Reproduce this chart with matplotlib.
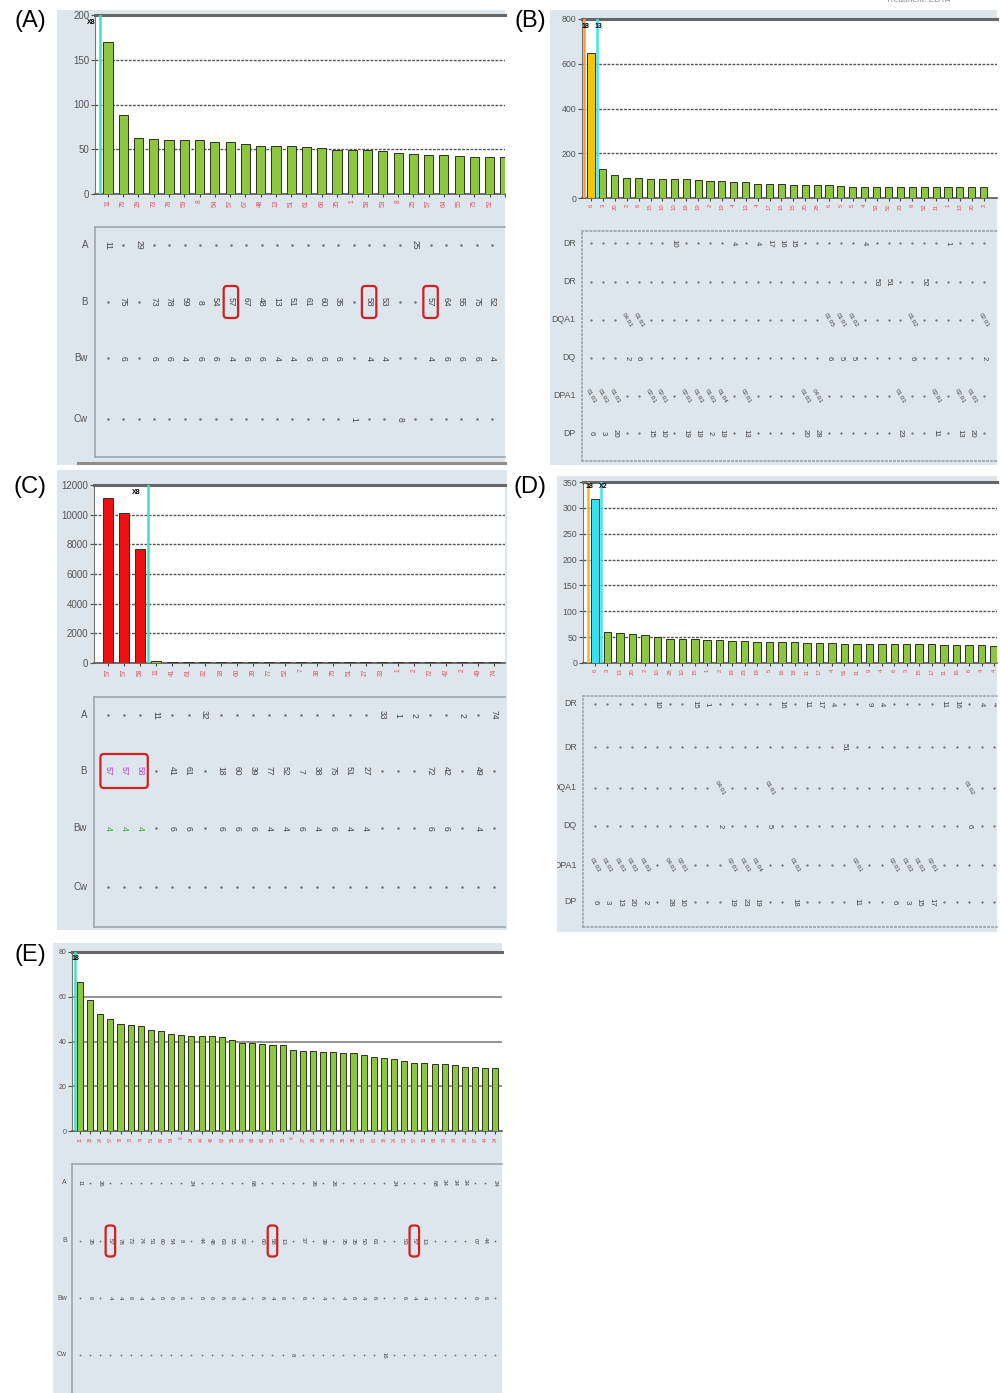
import numpy as np
import matplotlib
matplotlib.use("Agg")
import matplotlib.pyplot as plt
from matplotlib.patches import FancyBboxPatch

plt.rcParams['font.family'] = ['Liberation Sans', 'DejaVu Sans']

W, H = 1000, 1393
BG = '#dde5ed'
GREEN = '#8dc63f'
CYAN_LINE = '#3fe0c5'
BOX_RED = '#d21f1f'

# ---------------- (A) class I beads
a_mfi = [170, 88, 63, 62, 60, 60, 60, 58, 58, 56, 54, 54, 54, 53, 51, 49, 49,
         49, 48, 46, 45, 44, 44, 43, 41, 41, 41]
a_rows = ['A', 'B', 'Bw', 'Cw']
a_A = {0: '11', 2: '29', 20: '25'}
a_B = ['.', '75', '.', '73', '78', '59', '8', '54', '57', '67', '48', '13', '51',
       '61', '60', '35', '.', '58', '53', '.', '.', '57', '64', '55', '75', '52']
a_Bw = ['.', '6', '.', '6', '6', '4', '6', '6', '4', '6', '6', '4', '4', '6',
        '6', '6', '.', '4', '4', '.', '.', '4', '6', '6', '6', '4']
a_Cw = {16: '1', 19: '8'}
a_boxed = [8, 17, 21]

# ---------------- (B) class II beads
b_mfi = [649, 128, 101, 91, 91, 87, 84, 84, 84, 79, 76, 76, 72, 72, 63, 63, 63,
         58, 58, 58, 58, 54, 51, 51, 51, 51, 51, 51, 51, 51, 51, 51, 51, 51]
b_rows = ['DR', 'DR', 'DQA1', 'DQ', 'DPA1', 'DP']
b_DR1 = {7: '10', 12: '4', 14: '4', 15: '17', 16: '16', 17: '15', 23: '4', 30: '1'}
b_DR2 = {24: '53', 25: '51', 28: '52'}
b_DQA1 = {3: '04:01', 4: '01:03', 20: '01:05', 21: '01:01', 22: '01:02',
          27: '01:02', 33: '02:01'}
b_DQ = {3: '2', 4: '6', 20: '6', 21: '5', 22: '5', 27: '6', 33: '2'}
b_DPA1 = {0: '01:03', 1: '01:03', 2: '01:03', 5: '02:01', 6: '02:01', 8: '02:01',
          9: '01:03', 10: '01:03', 11: '01:04', 13: '02:01', 18: '01:03',
          19: '04:01', 26: '01:03', 29: '02:01', 31: '02:01', 32: '01:03'}
b_DP = {0: '6', 1: '3', 2: '20', 5: '15', 6: '10', 8: '19', 9: '19', 10: '2',
        11: '19', 13: '13', 18: '20', 19: '28', 26: '23', 29: '11', 31: '13', 32: '20'}

# ---------------- (C) class I beads, strong B57/B58
c_mfi = [11100, 10090, 7660, 160, 70, 65, 62, 60, 58, 57, 55, 55, 54, 53, 52, 52,
         51, 50, 50, 49, 48, 48, 47, 46, 45]
c_rows = ['A', 'B', 'Bw', 'Cw']
c_A = {3: '11', 6: '32', 17: '33', 18: '1', 19: '2', 22: '2', 24: '74'}
c_B = ['57', '57', '58', '.', '41', '61', '.', '18', '60', '39', '77', '52', '7',
       '38', '75', '51', '27', '.', '.', '.', '72', '42', '.', '49', '.']
c_Bw = ['4', '4', '4', '.', '6', '6', '.', '6', '6', '6', '4', '4', '6', '4', '6',
        '4', '4', '.', '.', '.', '6', '6', '.', '4', '.']
c_Cw = {}
c_hot = [0, 1, 2]

# ---------------- (D) class II beads
d_mfi = [317, 59, 58, 56, 55, 50, 46, 46, 46, 44, 44, 42, 42, 40, 40, 40, 40, 39,
         39, 39, 37, 37, 37, 36, 36, 36, 36, 36, 35, 35, 35, 35, 32]
d_rows = ['DR', 'DR', 'DQA1', 'DQ', 'DPA1', 'DP']
d_DR1 = {5: '10', 8: '15', 9: '1', 15: '16', 17: '11', 18: '17', 19: '4', 22: '9',
         23: '4', 28: '11', 29: '16', 31: '4', 32: '4'}
d_DR2 = {20: '51'}
d_DQA1 = {10: '04:01', 14: '01:01', 30: '01:02'}
d_DQ = {10: '2', 14: '5', 30: '6'}
d_DPA1 = {0: '01:03', 1: '01:03', 2: '01:03', 3: '01:03', 4: '01:03', 6: '04:01',
          7: '02:01', 11: '02:01', 12: '01:03', 13: '01:04', 16: '01:03',
          21: '02:01', 24: '02:01', 25: '01:03', 26: '01:03', 27: '02:01'}
d_DP = {0: '6', 1: '3', 2: '13', 3: '20', 4: '2', 6: '28', 7: '10', 11: '19',
        12: '23', 13: '19', 16: '18', 21: '11', 24: '6', 25: '3', 26: '15', 27: '17'}

# ---------------- (E) class I beads
e_mfi = [66.6, 58.7, 52.2, 50.1, 47.7, 47.4, 47.1, 45.3, 44.7, 43.5, 42.8, 42.5,
         42.5, 42.5, 42.0, 40.5, 39.5, 39.5, 38.9, 38.6, 38.3, 36.4, 35.9, 35.9,
         35.2, 35.2, 34.7, 34.7, 33.8, 33.1, 32.6, 32.0, 31.1, 30.6, 30.6, 30.1,
         29.8, 29.4, 28.8, 28.8, 28.2, 28.2]
e_rows = ['A', 'B', 'Bw', 'Cw']
e_A = {0: '11', 2: '26', 11: '24', 17: '68', 23: '26', 25: '26', 31: '24',
       35: '68', 36: '34', 37: '34', 38: '34', 41: '24'}
e_B = ['.', '35', '.', '57', '78', '73', '74', '51', '60', '54', '8', '.', '44',
       '48', '63', '55', '52', '.', '60', '58', '13', '.', '37', '.', '39', '.',
       '35', '35', '50', '61', '.', '.', '53', '57', '13', '.', '.', '.', '.',
       '07', '44', '.']
e_Bw = ['.', '6', '.', '4', '4', '6', '4', '4', '6', '6', '6', '.', '6', '6', '6',
        '6', '4', '.', '6', '4', '6', '.', '6', '.', '4', '.', '4', '6', '4', '6',
        '.', '.', '6', '4', '4', '.', '.', '.', '.', '6', '6', '.']
e_Cw = {21: '8', 30: '16'}
e_boxed = [3, 19, 33]


def frac(x0, y0, x1, y1):
    return [x0 / W, 1 - y1 / H, (x1 - x0) / W, (y1 - y0) / H]


def as_row(row, n):
    if isinstance(row, dict):
        return [row.get(i, '.') for i in range(n)]
    return list(row)


def col_labels(rows, n):
    labs = []
    for i in range(n):
        lab = ''
        for r in rows:
            if i < len(r) and r[i] != '.' and ':' not in r[i]:
                lab = r[i]
                break
        labs.append(lab)
    return labs


def draw_panel(fig, bg_box, chart_box, table_y, c0, step, mfi, colors, yticks,
               row_names, rows, row_y, vlines, fs=1.0, grid=None, width=0.6,
               boxes=(), box_h=32, cell_colors=None, table_ls='-', n_cols=None):
    cell_colors = cell_colors or {}
    n_cols = n_cols or len(mfi)
    rows = [as_row(r, n_cols) for r in rows]

    # panel background
    x0, y0, x1, y1 = bg_box
    bg = fig.add_axes(frac(*bg_box), zorder=0)
    bg.set_facecolor(BG)
    bg.set_xlim(x0, x1)
    bg.set_ylim(y1, y0)
    bg.set_xticks([])
    bg.set_yticks([])
    for s in bg.spines.values():
        s.set_visible(False)

    # bar chart
    cx0, cy0, cx1, cy1 = chart_box
    xl = ((cx0 - c0) / step, (cx1 - c0) / step)
    ax = fig.add_axes(frac(*chart_box), zorder=2)
    ax.set_facecolor('white')
    idx = np.arange(len(mfi))
    ax.bar(idx, mfi, width=width, color=colors, edgecolor='#2c3320',
           linewidth=0.7, zorder=3)
    ax.set_xlim(*xl)
    ax.set_ylim(0, yticks[-1])
    for t in yticks[1:-1]:
        ax.axhline(t, zorder=1, **grid)
    ax.set_yticks(yticks)
    ax.set_yticklabels([str(t) for t in yticks])
    ax.tick_params(axis='y', labelsize=7 * fs, colors='#555', length=3,
                   width=0.8, pad=1)
    ax.set_xticks(idx)
    ax.set_xticklabels(col_labels(rows, len(mfi)), rotation=90,
                       fontsize=4.8 * fs, color='#e8505b')
    ax.tick_params(axis='x', length=2.5, width=0.8, color='#444', pad=1.5)
    ax.spines['right'].set_visible(False)
    ax.spines['top'].set_color('#666')
    ax.spines['top'].set_linewidth(2.2)
    ax.spines['left'].set_color('#777')
    ax.spines['bottom'].set_color('#555')
    ax.spines['bottom'].set_linewidth(1.2)
    for xv, col in vlines:
        ax.axvline(xv, color=col, lw=1.8, zorder=4)

    # antigen table
    ty0, ty1 = table_y
    tab = fig.add_axes(frac(cx0, ty0, cx1, ty1), zorder=2)
    tab.set_facecolor(BG)
    tab.set_xlim(*xl)
    tab.set_ylim(ty1, ty0)
    tab.set_xticks([])
    tab.set_yticks([])
    tab.spines['right'].set_visible(False)
    for side in ('left', 'top', 'bottom'):
        tab.spines[side].set_color('#99a2aa')
        tab.spines[side].set_linestyle(table_ls)
        tab.spines[side].set_linewidth(1.1)

    for r, (name, ry, row) in enumerate(zip(row_names, row_y, rows)):
        bg.text(cx0 - 7 * fs, ry, name, ha='right', va='center',
                fontsize=7 * fs, color='#555', clip_on=True)
        dots = [i for i, v in enumerate(row) if v == '.']
        tab.plot(dots, [ry] * len(dots), ls='none', marker='o', ms=1.8 * fs,
                 color='#6f6f6f', mec='none')
        for i, v in enumerate(row):
            if v == '.':
                continue
            rot = -60 if ':' in v else -90
            tab.text(i, ry, v, rotation=rot, rotation_mode='anchor',
                     ha='center', va='center', fontsize=(5 if ':' in v else 6.2) * fs,
                     color=cell_colors.get((r, i), '#444'), clip_on=True)

    for r, first, last in boxes:
        ry = row_y[r]
        tab.add_patch(FancyBboxPatch(
            (first - 0.47, ry - box_h / 2), last - first + 0.94, box_h,
            boxstyle='round,pad=0,rounding_size=%.3f' % (3.5 / step),
            mutation_aspect=step, fc='none', ec=BOX_RED, lw=1.6, zorder=5))
    return ax, tab


fig = plt.figure(figsize=(W / 100, H / 100), dpi=100)

dashed = dict(color='#555', lw=1.0, ls=(0, (2, 1)))
solid = dict(color='#8a8a8a', lw=1.3, ls='-')

# (A)
draw_panel(fig, (57, 10, 505, 465), (95, 15, 505, 194), (227, 457), 108, 15.36,
           a_mfi, GREEN, [0, 50, 100, 150, 200],
           a_rows, [a_A, a_B, a_Bw, a_Cw], [245, 302, 358, 419],
           [(-0.5, CYAN_LINE)], grid=dashed, n_cols=26,
           boxes=[(1, c, c) for c in a_boxed])
fig.add_artist(plt.Line2D([78 / W, 505 / W], [1 - 463 / H] * 2, color='#8c8c8c', lw=2.2))

# (B)
draw_panel(fig, (550, 10, 997, 465), (582, 19, 997, 198), (231, 461), 591, 11.9,
           b_mfi, ['#f6c500'] + [GREEN] * (len(b_mfi) - 1), [0, 200, 400, 600, 800],
           b_rows, [b_DR1, b_DR2, b_DQA1, b_DQ, b_DPA1, b_DP],
           [243, 282, 320, 358, 396, 433],
           [(-0.6, '#f79a3c'), (0.5, '#3ee6ee')], fs=0.9, grid=dashed,
           table_ls=':')

# (C)
draw_panel(fig, (57, 470, 507, 930), (94, 485, 505, 663), (697, 927), 108, 16.1,
           c_mfi, ['#ee1111'] * 3 + [GREEN] * (len(c_mfi) - 3),
           [0, 2000, 4000, 6000, 8000, 10000, 12000],
           c_rows, [c_A, c_B, c_Bw, c_Cw], [715, 771, 828, 887],
           [(2.5, CYAN_LINE)], grid=dashed, width=0.64,
           boxes=[(1, c_hot[0], c_hot[-1])], box_h=34,
           cell_colors={**{(1, i): '#b446d8' for i in c_hot},
                        **{(2, i): '#36a336' for i in c_hot}})

# (D)
draw_panel(fig, (557, 476, 997, 932), (583, 482, 997, 663), (696, 927), 595, 12.47,
           d_mfi, ['#33e3ef'] + [GREEN] * (len(d_mfi) - 1),
           [0, 50, 100, 150, 200, 250, 300, 350],
           d_rows, [d_DR1, d_DR2, d_DQA1, d_DQ, d_DPA1, d_DP],
           [704, 747, 788, 826, 865, 902],
           [(-0.56, '#f5b52a'), (0.5, '#3ee6ee')], fs=0.9, grid=dashed,
           table_ls=':')

# (E)
draw_panel(fig, (53, 943, 502, 1393), (72, 952, 502, 1131), (1164, 1400), 80, 10.13,
           e_mfi, GREEN, [0, 20, 40, 60, 80],
           e_rows, [e_A, e_B, e_Bw, e_Cw], [1183, 1241, 1298, 1355],
           [(-0.5, CYAN_LINE)], fs=0.72, grid=solid,
           boxes=[(1, c, c) for c in e_boxed], box_h=31)

# panel letters
for tag, (tx, ty) in {'(A)': (30, 21), '(B)': (530, 21), '(C)': (30, 487),
                      '(D)': (530, 487), '(E)': (30, 955)}.items():
    fig.text(tx / W, 1 - ty / H, tag, fontsize=17, ha='center', va='center')

# bead-set markers at the top of each chart
for txt, (tx, ty) in [('X8', (91, 22)), ('18', (585, 27)), ('13', (598, 27)),
                      ('X8', (136, 493)), ('18', (590, 487)), ('X2', (603, 487)),
                      ('18', (76, 958))]:
    fig.text(tx / W, 1 - ty / H, txt, fontsize=5, weight='bold', ha='center',
             va='center', zorder=10)

fig.text(918 / W, 1 - 1 / H, 'Treatment: EDTA', fontsize=6, color='#888',
         ha='center', va='center')

fig.savefig('out.png', dpi=100)
